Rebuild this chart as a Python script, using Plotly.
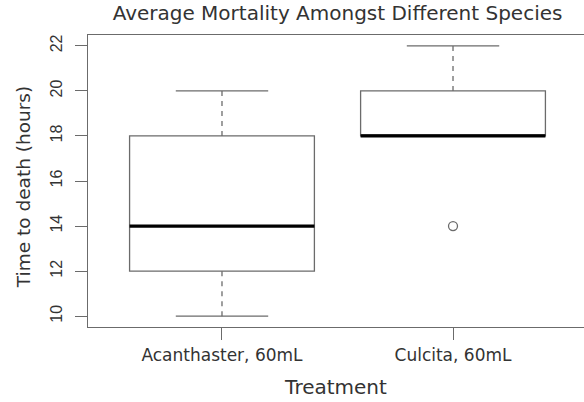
import plotly.graph_objects as go

# Summary statistics for time to death (hours) by treatment
treatments = ["Acanthaster, 60mL", "Culcita, 60mL"]
positions = [1, 2]
whisker_low = [10, 18]
q1 = [12, 18]
median = [14, 18]
q3 = [18, 20]
whisker_high = [20, 22]
outlier_pos = [2]
outlier_val = [14]

y_ticks = [10, 12, 14, 16, 18, 20, 22]

LINE = "#6b6b6b"
TEXT = "#333333"
FONT = "DejaVu Sans"
NUM_FONT = "Liberation Sans"
BOX_W = 0.8
CAP_W = 0.4

fig = go.Figure()

# dashed whiskers
for p, lo, a, b, hi in zip(positions, whisker_low, q1, q3, whisker_high):
    for y0, y1 in ((lo, a), (b, hi)):
        if y0 != y1:
            fig.add_trace(go.Scatter(x=[p, p], y=[y0, y1], mode="lines",
                                     line=dict(color=LINE, width=1.3, dash="5px,5px"),
                                     hoverinfo="skip", showlegend=False))
    # staples
    for yv in (lo, hi):
        fig.add_trace(go.Scatter(x=[p - CAP_W / 2, p + CAP_W / 2], y=[yv, yv], mode="lines",
                                 line=dict(color=LINE, width=1.3),
                                 hoverinfo="skip", showlegend=False))

# boxes
fig.add_trace(go.Box(x=positions, q1=q1, median=median, q3=q3,
                     lowerfence=q1, upperfence=q3,
                     width=BOX_W, whiskerwidth=0,
                     fillcolor="white", line=dict(color=LINE, width=1.3),
                     boxpoints=False, hoverinfo="skip", showlegend=False))

# thick medians
for p, m in zip(positions, median):
    fig.add_trace(go.Scatter(x=[p - BOX_W / 2, p + BOX_W / 2], y=[m, m], mode="lines",
                             line=dict(color="black", width=3.2),
                             hoverinfo="skip", showlegend=False))

# outliers
fig.add_trace(go.Scatter(x=outlier_pos, y=outlier_val, mode="markers",
                         marker=dict(symbol="circle-open", size=9, color=LINE,
                                     line=dict(width=1.3)),
                         hoverinfo="skip", showlegend=False))

fig.update_layout(
    width=584, height=402,
    margin=dict(l=88, r=0, t=35, b=75),
    paper_bgcolor="white", plot_bgcolor="white",
    font=dict(family=FONT, color=TEXT, size=14),
    title=dict(text="Average Mortality Amongst Different Species",
               x=0.578, xanchor="center", y=0.968, yanchor="middle",
               font=dict(size=20, family=FONT, color=TEXT)),
    xaxis=dict(range=[0.42, 2.567], tickmode="array", tickvals=positions,
               ticktext=treatments, ticks="outside", ticklen=12, tickcolor=LINE,
               showline=True, linecolor=LINE, linewidth=1.2, mirror=True,
               showgrid=False, zeroline=False,
               tickfont=dict(size=17, family=FONT, color=TEXT),
               title=dict(text="Treatment", standoff=16,
                          font=dict(size=20, family=FONT, color=TEXT))),
    yaxis=dict(range=[9.52, 22.48], tickmode="array", tickvals=y_ticks,
               ticks="outside", ticklen=12, tickcolor=LINE, tickangle=-90,
               ticklabelstandoff=7,
               showline=True, linecolor=LINE, linewidth=1.2,
               showgrid=False, zeroline=False,
               tickfont=dict(size=16, family=NUM_FONT, color=TEXT)),
    annotations=[dict(text="Time to death (hours)", textangle=-90,
                      xref="paper", yref="paper", x=-0.131, y=0.479,
                      xanchor="center", yanchor="middle", showarrow=False,
                      font=dict(size=18.5, family=FONT, color=TEXT))],
)

fig.write_html("out.html")
